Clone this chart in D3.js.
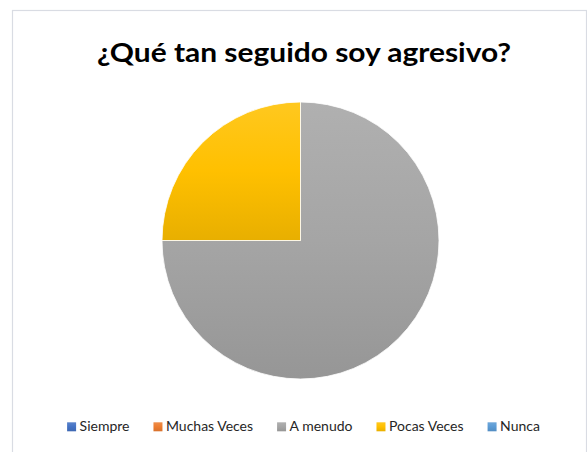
<!DOCTYPE html>
<html>
<head>
<meta charset="utf-8">
<script src="https://cdnjs.cloudflare.com/ajax/libs/d3/7.8.5/d3.min.js"></script>
<style>
  html, body { margin: 0; padding: 0; background: #fff; }
  svg { display: block; }
</style>
</head>
<body>
<svg id="chart" width="587" height="452"></svg>
<script>
// Survey answers for the question in the title
const categories = ["Siempre", "Muchas Veces", "A menudo", "Pocas Veces", "Nunca"];
const values = [0, 0, 75, 25, 0];
const colors = ["#4472C4", "#ED7D31", "#A5A5A5", "#FFC000", "#5B9BD5"];
const title = "¿Qué tan seguido soy agresivo?";

const W = 587, H = 452;
const svg = d3.select("#chart");
const defs = svg.append("defs");

// Soft vertical shading for each colour: lighter on top, darker at the bottom
colors.forEach((c, i) => {
  const base = d3.rgb(c);
  const dark = d3.rgb(base.r * 0.91, base.g * 0.91, base.b * 0.91);
  const g = defs.append("linearGradient")
    .attr("id", "grad" + i)
    .attr("x1", 0).attr("y1", 0).attr("x2", 0).attr("y2", 1);
  g.append("stop").attr("offset", "0%").attr("stop-color", d3.interpolateRgb(c, "#fff")(0.12));
  g.append("stop").attr("offset", "50%").attr("stop-color", c);
  g.append("stop").attr("offset", "100%").attr("stop-color", dark);
});

// Chart frame
svg.append("rect")
  .attr("x", 12.5).attr("y", 10.5)
  .attr("width", 574).attr("height", 470)
  .attr("fill", "#fff")
  .attr("stroke", "#D9DCE3")
  .attr("stroke-width", 1.2);

// Title
svg.append("text")
  .attr("x", 304).attr("y", 62)
  .attr("text-anchor", "middle")
  .attr("font-family", "Lato, Carlito, Calibri, sans-serif")
  .attr("font-weight", "bold")
  .attr("font-size", 27)
  .attr("fill", "#000")
  .attr("textLength", 414)
  .attr("lengthAdjust", "spacingAndGlyphs")
  .text(title);

// Pie
const cx = 300.5, cy = 240.5, r = 138.5;
const pie = d3.pie().sort(null).value(d => d.value);
const data = categories.map((name, i) => ({ name, value: values[i], i }));
const arc = d3.arc().innerRadius(0).outerRadius(r);

svg.append("g")
  .attr("transform", `translate(${cx},${cy})`)
  .selectAll("path")
  .data(pie(data).filter(d => d.data.value > 0))
  .join("path")
  .attr("d", arc)
  .attr("fill", d => `url(#grad${d.data.i})`)
  .attr("stroke", "#fff")
  .attr("stroke-width", 0.8);

// Legend, centred under the pie
const legend = svg.append("g");
const fontSize = 14;
const items = legend.selectAll("g")
  .data(data)
  .join("g");
items.append("rect")
  .attr("width", 9).attr("height", 9)
  .attr("y", -8.7)
  .attr("fill", d => `url(#grad${d.i})`);
items.append("text")
  .attr("x", 12.5)
  .attr("y", 0)
  .attr("font-family", "Lato, Carlito, Calibri, sans-serif")
  .attr("font-size", fontSize)
  .attr("fill", "#262626")
  .text(d => d.name);

let x = 0;
const gap = 24;
items.each(function () {
  const t = d3.select(this).select("text").node().getComputedTextLength();
  d3.select(this).attr("transform", `translate(${x},0)`);
  x += 12.5 + t + gap;
});
const total = x - gap;
legend.attr("transform", `translate(${(67 + 540) / 2 - total / 2},431)`);
</script>
</body>
</html>
